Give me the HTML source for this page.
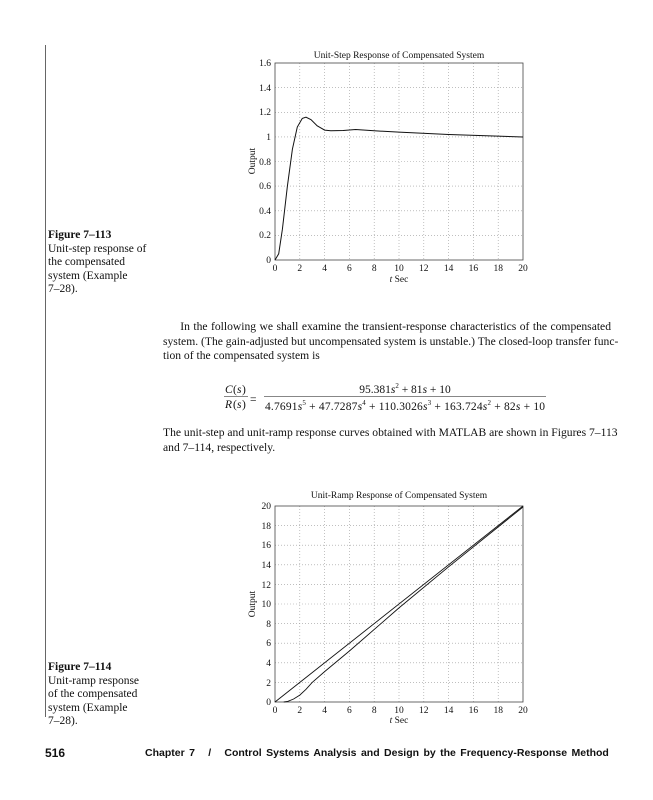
<!DOCTYPE html>
<html><head><style>
body{margin:0;width:653px;height:800px;background:#fff;position:relative;font-family:"Liberation Serif",serif;color:#111;overflow:hidden}
.a{position:absolute}
.cap{font-size:11.5px;line-height:13.5px;left:48px}
.p{font-size:11.6px;line-height:14.5px;left:163px;width:448px}
.j{text-align:justify;text-align-last:justify;white-space:nowrap}
svg text{font-family:"Liberation Serif",serif}
.ft{font-family:"Liberation Sans",sans-serif;font-weight:bold;font-size:10.5px;top:747px;white-space:pre}
</style></head><body>
<div class="a" style="left:45px;top:45px;width:1px;height:672px;background:#666"></div>
<div class="a cap" style="top:229px"><b>Figure 7–113</b><br>Unit-step response of<br>the compensated<br>system (Example<br>7–28).</div>
<div class="a cap" style="top:661px"><b>Figure 7–114</b><br>Unit-ramp response<br>of the compensated<br>system (Example<br>7–28).</div>
<div class="a ft" style="left:45px;font-size:12px;top:746px">516</div>
<div class="a ft" style="left:145px;width:422px;text-align:justify;text-align-last:justify;word-spacing:1.5px">Chapter 7 <span>  /  </span> Control Systems Analysis and Design by the Frequency-Response Method</div>
<svg class="a" style="left:0;top:0" width="653" height="800">
<g font-size="9.5" fill="#111">
<text x="399" y="58" text-anchor="middle">Unit-Step Response of Compensated System</text>
<g stroke="#999" stroke-width="0.6" stroke-dasharray="1,2">
<line x1="299.8" y1="63" x2="299.8" y2="260"/><line x1="324.6" y1="63" x2="324.6" y2="260"/><line x1="349.4" y1="63" x2="349.4" y2="260"/><line x1="374.2" y1="63" x2="374.2" y2="260"/><line x1="399" y1="63" x2="399" y2="260"/><line x1="423.8" y1="63" x2="423.8" y2="260"/><line x1="448.6" y1="63" x2="448.6" y2="260"/><line x1="473.4" y1="63" x2="473.4" y2="260"/><line x1="498.2" y1="63" x2="498.2" y2="260"/>
<line x1="275" y1="235.4" x2="523" y2="235.4"/><line x1="275" y1="210.8" x2="523" y2="210.8"/><line x1="275" y1="186.1" x2="523" y2="186.1"/><line x1="275" y1="161.5" x2="523" y2="161.5"/><line x1="275" y1="136.9" x2="523" y2="136.9"/><line x1="275" y1="112.3" x2="523" y2="112.3"/><line x1="275" y1="87.6" x2="523" y2="87.6"/>
</g>
<rect x="275" y="63" width="248" height="197" fill="none" stroke="#444" stroke-width="0.8"/>
<polyline fill="none" stroke="#111" stroke-width="1" points="275,260 278.7,253.8 282.4,229.2 287.4,186.1 292.4,149.2 297.3,127 302.3,118.4 306,117.2 311,119.7 317.2,125.8 324.6,130.1 330.8,130.8 343.2,130.5 355.6,129.5 374.2,130.8 399,132.1 448.6,134.5 523,137"/>
<g text-anchor="end"><text x="271" y="263">0</text><text x="271" y="238">0.2</text><text x="271" y="214">0.4</text><text x="271" y="189">0.6</text><text x="271" y="165">0.8</text><text x="271" y="140">1</text><text x="271" y="115">1.2</text><text x="271" y="91">1.4</text><text x="271" y="66">1.6</text></g>
<g text-anchor="middle"><text x="275" y="271">0</text><text x="299.8" y="271">2</text><text x="324.6" y="271">4</text><text x="349.4" y="271">6</text><text x="374.2" y="271">8</text><text x="399" y="271">10</text><text x="423.8" y="271">12</text><text x="448.6" y="271">14</text><text x="473.4" y="271">16</text><text x="498.2" y="271">18</text><text x="523" y="271">20</text>
<text x="399" y="282"><tspan font-style="italic">t</tspan> Sec</text>
<text transform="translate(255,161) rotate(-90)">Output</text></g>

<text x="399" y="498" text-anchor="middle">Unit-Ramp Response of Compensated System</text>
<g stroke="#999" stroke-width="0.6" stroke-dasharray="1,2">
<line x1="299.8" y1="506" x2="299.8" y2="702"/><line x1="324.6" y1="506" x2="324.6" y2="702"/><line x1="349.4" y1="506" x2="349.4" y2="702"/><line x1="374.2" y1="506" x2="374.2" y2="702"/><line x1="399" y1="506" x2="399" y2="702"/><line x1="423.8" y1="506" x2="423.8" y2="702"/><line x1="448.6" y1="506" x2="448.6" y2="702"/><line x1="473.4" y1="506" x2="473.4" y2="702"/><line x1="498.2" y1="506" x2="498.2" y2="702"/>
<line x1="275" y1="682.4" x2="523" y2="682.4"/><line x1="275" y1="662.8" x2="523" y2="662.8"/><line x1="275" y1="643.2" x2="523" y2="643.2"/><line x1="275" y1="623.6" x2="523" y2="623.6"/><line x1="275" y1="604" x2="523" y2="604"/><line x1="275" y1="584.4" x2="523" y2="584.4"/><line x1="275" y1="564.8" x2="523" y2="564.8"/><line x1="275" y1="545.2" x2="523" y2="545.2"/><line x1="275" y1="525.6" x2="523" y2="525.6"/>
</g>
<rect x="275" y="506" width="248" height="196" fill="none" stroke="#444" stroke-width="0.8"/>
<line x1="275" y1="702" x2="523" y2="506" stroke="#111" stroke-width="0.9"/>
<polyline fill="none" stroke="#111" stroke-width="0.9" points="283.7,702 287.4,701.5 293.6,699 299.8,695.1 306,689.3 312.2,682.4 324.6,671.6 349.4,651 399,607.9 448.6,566.8 523,507"/>
<g text-anchor="end"><text x="271" y="705">0</text><text x="271" y="686">2</text><text x="271" y="666">4</text><text x="271" y="646">6</text><text x="271" y="627">8</text><text x="271" y="607">10</text><text x="271" y="588">12</text><text x="271" y="568">14</text><text x="271" y="548">16</text><text x="271" y="529">18</text><text x="271" y="509">20</text></g>
<g text-anchor="middle"><text x="275" y="713">0</text><text x="299.8" y="713">2</text><text x="324.6" y="713">4</text><text x="349.4" y="713">6</text><text x="374.2" y="713">8</text><text x="399" y="713">10</text><text x="423.8" y="713">12</text><text x="448.6" y="713">14</text><text x="473.4" y="713">16</text><text x="498.2" y="713">18</text><text x="523" y="713">20</text>
<text x="399" y="723"><tspan font-style="italic">t</tspan> Sec</text>
<text transform="translate(255,604) rotate(-90)">Output</text></g>
</g>
<g font-size="11.5" fill="#111">
<text x="225" y="393" font-style="italic">C</text><text x="233" y="393">(</text><text x="237" y="393" font-style="italic">s</text><text x="242" y="393">)</text>
<text x="225" y="408" font-style="italic">R</text><text x="233" y="408">(</text><text x="237" y="408" font-style="italic">s</text><text x="242" y="408">)</text>
<line x1="224" y1="396.5" x2="248" y2="396.5" stroke="#111" stroke-width="0.6"/>
<text x="250" y="403">=</text>
<line x1="264" y1="396.5" x2="546" y2="396.5" stroke="#111" stroke-width="0.6"/>
<text x="405" y="393" text-anchor="middle">95.381<tspan font-style="italic">s</tspan><tspan font-size="7" dy="-5">2</tspan><tspan dy="5"> + 81</tspan><tspan font-style="italic">s</tspan> + 10</text>
<text x="265" y="410" textLength="280">4.7691<tspan font-style="italic">s</tspan><tspan font-size="7" dy="-5">5</tspan><tspan dy="5"> + 47.7287</tspan><tspan font-style="italic">s</tspan><tspan font-size="7" dy="-5">4</tspan><tspan dy="5"> + 110.3026</tspan><tspan font-style="italic">s</tspan><tspan font-size="7" dy="-5">3</tspan><tspan dy="5"> + 163.724</tspan><tspan font-style="italic">s</tspan><tspan font-size="7" dy="-5">2</tspan><tspan dy="5"> + 82</tspan><tspan font-style="italic">s</tspan> + 10</text>
</g>
</svg>
<div class="a p" style="top:320px">
<div class="j">&nbsp;&nbsp;&nbsp;&nbsp;&nbsp;In the following we shall examine the transient-response characteristics of the compensated</div>
<div class="j">system. (The gain-adjusted but uncompensated system is unstable.) The closed-loop transfer func-</div>
<div>tion of the compensated system is</div></div>
<div class="a p" style="top:426px">
<div class="j">The unit-step and unit-ramp response curves obtained with MATLAB are shown in Figures 7–113</div>
<div>and 7–114, respectively.</div></div>
</body></html>
